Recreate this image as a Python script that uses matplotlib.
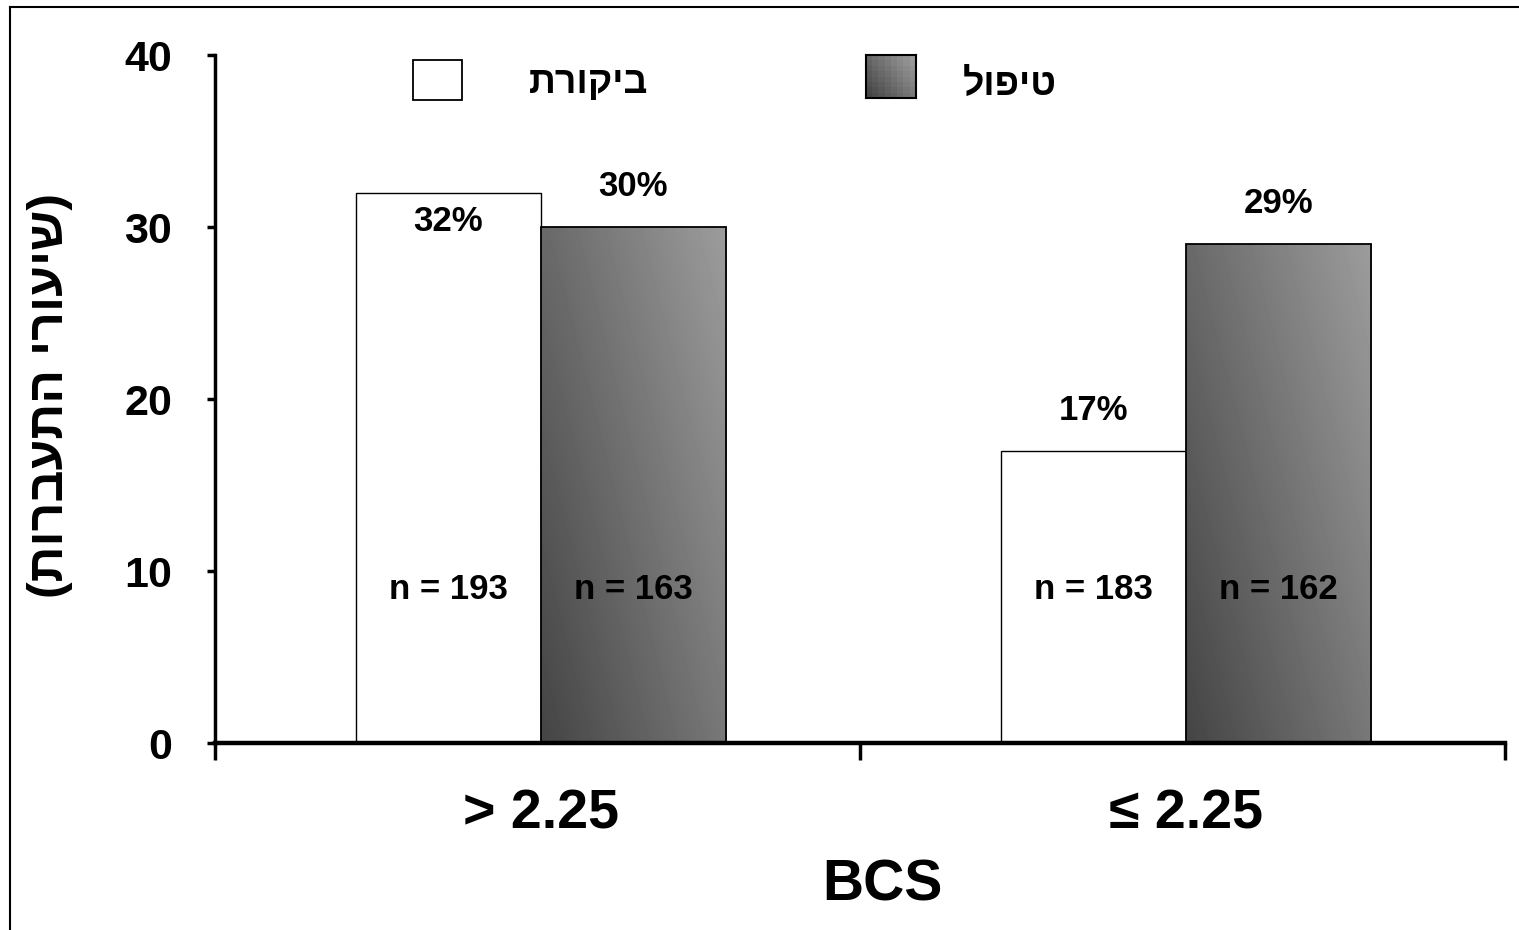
import numpy as np
import matplotlib
matplotlib.use("Agg")
import matplotlib.pyplot as plt
from matplotlib.patches import Rectangle
from matplotlib.lines import Line2D

plt.rcParams['font.family'] = ['Liberation Sans', 'DejaVu Sans']
plt.rcParams['font.weight'] = 'bold'

# data
categories = ["> 2.25", "≤ 2.25"]
control = [32, 17]
treatment = [30, 29]
control_n = [193, 183]
treatment_n = [163, 162]
series_names = ["ביקורת", "טיפול"]
y_label = "(שיעורי התעברות)"
x_label = "BCS"
y_ticks = [0, 10, 20, 30, 40]


def visual(s):
    # matplotlib has no bidi support: reverse hebrew, mirror brackets
    return s[::-1].translate(str.maketrans("()", ")("))


def gradient(nx=60, ny=60):
    u = np.linspace(0, 1, nx)[None, :]
    w = np.linspace(0, 1, ny)[:, None]
    return 0.27 + 0.2 * u + 0.14 * w


W, H = 1519, 930
fig = plt.figure(figsize=(W / 100, H / 100), dpi=100)
ax = fig.add_axes([215 / W, 1 - 743 / H, 1290 / W, 688 / H])

x = np.arange(len(categories)) + 0.005
bw = 0.287

ax.bar(x - bw / 2, control, bw, color='white', edgecolor='black', linewidth=1.0, zorder=2)
gbars = ax.bar(x + bw / 2, treatment, bw, color='none', edgecolor='black', linewidth=1.3, zorder=3)
for b in gbars:
    x0, w_, h = b.get_x(), b.get_width(), b.get_height()
    im = ax.imshow(gradient(), cmap='gray', vmin=0, vmax=1, origin='lower',
                   extent=(x0, x0 + w_, 0, h), aspect='auto', zorder=2,
                   interpolation='bilinear')
    im.set_clip_path(b)

ax.set_xlim(-0.5, 1.5)
ax.set_ylim(0, 40)

# value labels
fs = 25
for i in range(len(categories)):
    cx = x[i] - bw / 2
    if control[i] > treatment[i]:
        ax.annotate(f"{control[i]}%", (cx, control[i]), xytext=(0, -21), textcoords='offset points',
                    ha='center', va='center', fontsize=fs, fontweight='bold')
    else:
        ax.annotate(f"{control[i]}%", (cx, control[i]), xytext=(0, 29), textcoords='offset points',
                    ha='center', va='center', fontsize=fs, fontweight='bold')
    ax.annotate(f"{treatment[i]}%", (x[i] + bw / 2, treatment[i]), xytext=(0, 29),
                textcoords='offset points', ha='center', va='center', fontsize=fs, fontweight='bold')
    ax.text(cx, 8.9, f"n = {control_n[i]}", ha='center', va='center', fontsize=fs, fontweight='bold')
    ax.text(x[i] + bw / 2, 8.9, f"n = {treatment_n[i]}", ha='center', va='center',
            fontsize=fs, fontweight='bold')

# axes styling
for s in ['top', 'right']:
    ax.spines[s].set_visible(False)
ax.spines['left'].set_linewidth(2.5)
ax.spines['bottom'].set_linewidth(3.2)
ax.spines['left'].set_zorder(5)
ax.spines['bottom'].set_zorder(5)

ax.set_yticks(y_ticks)
ax.set_yticklabels([str(t) for t in y_ticks], fontsize=31, fontweight='bold')
ax.tick_params(axis='y', length=6, width=2.5, pad=25)
ax.set_xticks([-0.5, 0.5, 1.5])
ax.set_xticklabels([])
ax.set_xticks(x, minor=True)
ax.set_xticklabels(categories, minor=True, fontsize=40, fontweight='bold')
ax.tick_params(axis='x', which='major', length=12, width=2.5, direction='out')
ax.tick_params(axis='x', which='minor', length=0, pad=33)

fig.text(882 / W, 1 - 885 / H, x_label, ha='center', va='center', fontsize=41, fontweight='bold')
fig.text(50 / W, 1 - 395 / H, visual(y_label), ha='center', va='center', rotation=90,
         fontsize=36, fontweight='bold')

# legend drawn by hand
fig.add_artist(Rectangle((413 / W, 1 - 100 / H), 49 / W, 40 / H, transform=fig.transFigure,
                         facecolor='white', edgecolor='black', linewidth=1.3))
fig.text(589 / W, 1 - 83 / H, visual(series_names[0]), ha='center', va='center',
         fontsize=27, fontweight='bold')
fig.add_artist(Rectangle((868 / W, 1 - 100 / H), 50 / W, 43 / H, transform=fig.transFigure,
                         facecolor='#777777', edgecolor='none', zorder=-1))
lax = fig.add_axes([866 / W, 1 - 98 / H, 50 / W, 43 / H])
lax.imshow(gradient(8, 8), cmap='gray', vmin=0, vmax=1, origin='lower', aspect='auto',
           interpolation='nearest')
lax.set_xticks([])
lax.set_yticks([])
for s in lax.spines.values():
    s.set_linewidth(1.5)
fig.text(1010 / W, 1 - 85 / H, visual(series_names[1]), ha='center', va='center',
         fontsize=27, fontweight='bold')

# outer frame (top and left edges)
fig.add_artist(Line2D([10 / W, 1], [1 - 7 / H, 1 - 7 / H], transform=fig.transFigure,
                      color='black', linewidth=1.5))
fig.add_artist(Line2D([10 / W, 10 / W], [0, 1 - 7 / H], transform=fig.transFigure,
                      color='black', linewidth=1.5))

fig.savefig("out.png", dpi=100, facecolor='white')
